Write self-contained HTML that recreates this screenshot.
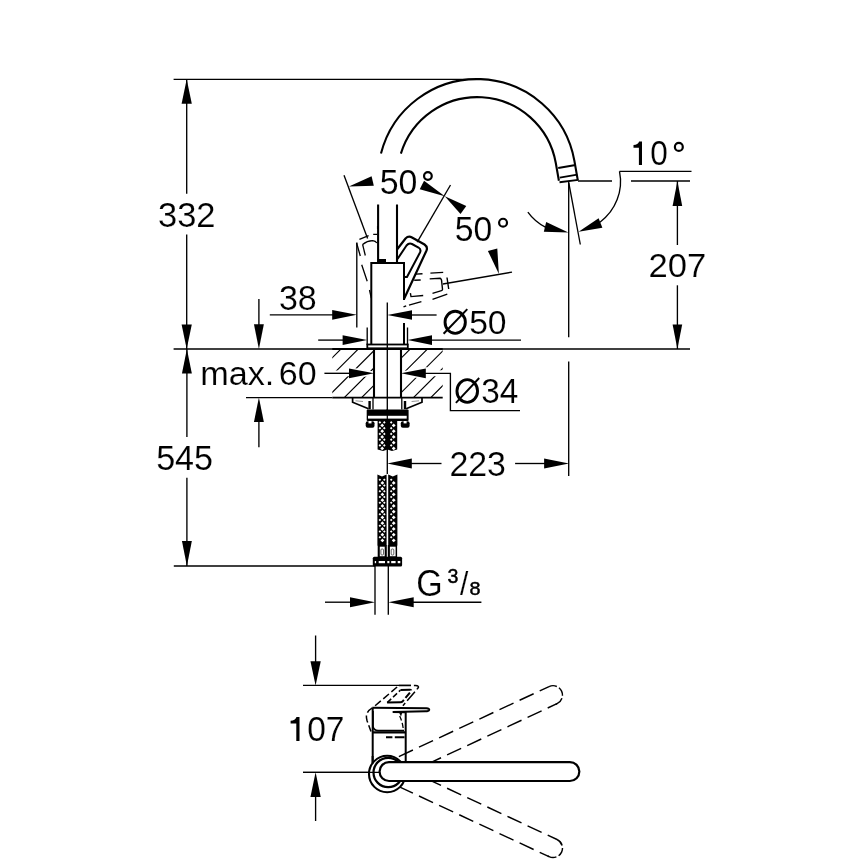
<!DOCTYPE html>
<html><head><meta charset="utf-8"><style>
html,body{margin:0;padding:0;background:#fff;}
svg{display:block;will-change:transform;}
text{font-family:"Liberation Sans",sans-serif;fill:#000;stroke:#fff;stroke-width:0.15px;}
</style></head><body>
<svg width="868" height="868" viewBox="0 0 868 868" stroke="#000" stroke-linecap="butt" fill="none">
<rect x="0" y="0" width="868" height="868" fill="#fff" stroke="none"/>
<line x1="173.6" y1="79.3" x2="476" y2="79.3" stroke-width="1.35" />
<line x1="186.7" y1="79.3" x2="186.7" y2="193.7" stroke-width="1.35" />
<line x1="186.7" y1="234.5" x2="186.7" y2="349" stroke-width="1.35" />
<polygon points="186.7,79.3 181.6,103.8 191.8,103.8" fill="#000" stroke="none" stroke-width="0" />
<polygon points="186.7,349 191.8,324.4 181.6,324.4" fill="#000" stroke="none" stroke-width="0" />
<text transform="translate(157.99 226.66) scale(0.9855 0.9806)" font-size="35" >332</text>
<line x1="173.6" y1="349" x2="690" y2="349" stroke-width="1.35" />
<line x1="186.9" y1="349" x2="186.9" y2="436.9" stroke-width="1.35" />
<line x1="186.9" y1="477.8" x2="186.9" y2="566" stroke-width="1.35" />
<polygon points="186.9,349 181.95,373.5 191.85,373.5" fill="#000" stroke="none" stroke-width="0" />
<polygon points="186.9,566 191.85,541 181.95,541" fill="#000" stroke="none" stroke-width="0" />
<text transform="translate(156.13 470.05) scale(0.9743 1.0114)" font-size="35" >545</text>
<line x1="173.8" y1="566" x2="375" y2="566" stroke-width="1.35" />
<line x1="619.5" y1="171.3" x2="691.5" y2="171.3" stroke-width="1.35" />
<line x1="578" y1="181" x2="612" y2="181" stroke-width="1.35" />
<line x1="631" y1="181" x2="690" y2="181" stroke-width="1.35" />
<line x1="677.4" y1="181" x2="677.4" y2="245" stroke-width="1.35" />
<line x1="677.4" y1="285.3" x2="677.4" y2="349" stroke-width="1.35" />
<polygon points="677.4,181 672.6,206 682.2,206" fill="#000" stroke="none" stroke-width="0" />
<polygon points="677.4,349 682.2,324.5 672.6,324.5" fill="#000" stroke="none" stroke-width="0" />
<text transform="translate(648.56 276.88) scale(0.9895 0.9443)" font-size="35" >207</text>
<path d="M642,141.5 V165.1 H638.9 V147.8 H633.5 V144.9 C636.5,144.8 638.4,144 639.1,141.5 Z" fill="#000" stroke="none"/>
<text transform="translate(650.17 165.46) scale(0.9025 0.9887)" font-size="35" >0</text>
<circle cx="678.85" cy="146.9" r="3.95" stroke-width="2.2" fill="none"/>
<path d="M619.5,171.3 A50.6,50.6 0 0 1 599.95,222.17" stroke-width="1.35" fill="none" />
<polygon points="578.6,231.8 602.38,227.69 598.62,218.31" fill="#000" stroke="none" stroke-width="0" />
<path d="M527.86,212.04 A50.6,50.6 0 0 0 545.83,227.38" stroke-width="1.35" fill="none" />
<polygon points="568.4,232.4 546.18,221.89 543.82,231.71" fill="#000" stroke="none" stroke-width="0" />
<line x1="568.8" y1="182.8" x2="580.3" y2="244.5" stroke-width="1.35" />
<line x1="568.7" y1="182" x2="568.7" y2="337.3" stroke-width="1.35" />
<line x1="568.7" y1="361.5" x2="568.7" y2="476" stroke-width="1.35" />
<path d="M380.98,153.6 A99.0,99.0 0 0 1 574.4,160.91 L577.78,180.11" stroke-width="2.1" fill="none" />
<path d="M400.88,153.6 A79.8,79.8 0 0 1 555.79,163.04 L558.91,180.77" stroke-width="2.1" fill="none" />
<path d="M558.2,168 L575.6,165 M559.8,177.6 L577.2,174.6 M559.5,182.3 L578.3,179.9" stroke-width="1.9" fill="none" />
<line x1="378.1" y1="204.5" x2="378.1" y2="263" stroke-width="2.1" />
<line x1="397" y1="204.5" x2="397" y2="263" stroke-width="2.1" />
<polygon points="377.7,259 386,259 386,263 377.7,263" fill="#000" stroke="none" stroke-width="0" />
<path d="M371.3,345 V263 H404 V300" stroke-width="2.0" fill="none" />
<line x1="404" y1="323" x2="404" y2="345" stroke-width="2.0" />
<rect x="367.3" y="344.5" width="40.5" height="3.8" fill="#fff" stroke-width="1.8"/>
<clipPath id="hL"><rect x="332.3" y="349" width="41.7" height="48.6"/></clipPath>
<clipPath id="hR"><rect x="401" y="349" width="41.7" height="48.6"/></clipPath>
<g clip-path="url(#hL)"><path d="M270,420 L370,320 M287.3,420 L387.3,320 M304.6,420 L404.6,320 M321.9,420 L421.9,320 M339.2,420 L439.2,320 M356.5,420 L456.5,320 M373.8,420 L473.8,320 M391.1,420 L491.1,320 M408.4,420 L508.4,320" stroke-width="1.15"/></g>
<g clip-path="url(#hR)"><path d="M270,420 L370,320 M287.3,420 L387.3,320 M304.6,420 L404.6,320 M321.9,420 L421.9,320 M339.2,420 L439.2,320 M356.5,420 L456.5,320 M373.8,420 L473.8,320 M391.1,420 L491.1,320 M408.4,420 L508.4,320" stroke-width="1.15"/></g>
<polygon points="332,370.5 350,370.5 350,367.3 374,371.5 374,375.2 350,379.3 350,376.2 332,376.2" fill="#fff" stroke="none" stroke-width="0" />
<polygon points="401,371.5 425,367.3 427.5,367.3 427.5,370.2 443,370.2 443,376.2 427.5,376.2 427.5,379.3 425,379.3 401,375.2" fill="#fff" stroke="none" stroke-width="0" />
<line x1="332.3" y1="349" x2="442.7" y2="349" stroke-width="1.9" />
<line x1="246" y1="397.6" x2="332.3" y2="397.6" stroke-width="1.35" />
<line x1="332.3" y1="397.6" x2="442.7" y2="397.6" stroke-width="1.9" />
<line x1="374" y1="349" x2="374" y2="397.6" stroke-width="2.1" />
<line x1="401" y1="349" x2="401" y2="397.6" stroke-width="2.1" />
<line x1="373" y1="397.6" x2="373" y2="409.5" stroke-width="1.3" />
<line x1="401.8" y1="397.6" x2="401.8" y2="409.5" stroke-width="1.3" />
<line x1="324.4" y1="373.3" x2="350" y2="373.3" stroke-width="1.35" />
<polygon points="374,373.3 349,368.45 349,378.15" fill="#000" stroke="none" stroke-width="0" />
<polygon points="401,373.3 425.8,378.15 425.8,368.45" fill="#000" stroke="none" stroke-width="0" />
<path d="M425,373.3 H450.4 V410.6 H520" stroke-width="1.35" fill="none" />
<ellipse cx="467.25" cy="391" rx="10.3" ry="11.35" fill="none" stroke-width="2.9"/>
<line x1="455.9" y1="402.8" x2="479.2" y2="378" stroke-width="1.9" />
<text transform="translate(481.23 402.97) scale(0.9543 0.9766)" font-size="35" >34</text>
<line x1="387.3" y1="302.4" x2="387.3" y2="474" stroke-width="1.35" />
<line x1="269.8" y1="314.8" x2="333" y2="314.8" stroke-width="1.35" />
<polygon points="356.8,314.8 332.2,309.95 332.2,319.65" fill="#000" stroke="none" stroke-width="0" />
<line x1="356.8" y1="242.6" x2="356.8" y2="327.5" stroke-width="1.35" />
<polygon points="387.3,315 412,319.85 412,310.15" fill="#000" stroke="none" stroke-width="0" />
<line x1="411" y1="315" x2="436.6" y2="315" stroke-width="1.35" />
<ellipse cx="455.2" cy="322.3" rx="10.15" ry="11.05" fill="none" stroke-width="2.9"/>
<line x1="443.6" y1="333.7" x2="467.3" y2="309.1" stroke-width="2.0" />
<text transform="translate(469.15 333.78) scale(0.9623 0.9322)" font-size="35" >50</text>
<line x1="318.2" y1="340.1" x2="343" y2="340.1" stroke-width="1.35" />
<polygon points="367.2,340.1 342.6,335.25 342.6,344.95" fill="#000" stroke="none" stroke-width="0" />
<line x1="367.2" y1="327.5" x2="367.2" y2="345" stroke-width="1.35" />
<polygon points="407.6,340.1 432,344.95 432,335.25" fill="#000" stroke="none" stroke-width="0" />
<line x1="431" y1="340.1" x2="521" y2="340.1" stroke-width="1.35" />
<line x1="407.5" y1="327.5" x2="407.5" y2="345" stroke-width="1.35" />
<text transform="translate(278.9 309.56) scale(0.9729 1.0008)" font-size="35" >38</text>
<line x1="258.9" y1="299" x2="258.9" y2="325" stroke-width="1.35" />
<polygon points="258.9,349 263.85,324.3 253.95,324.3" fill="#000" stroke="none" stroke-width="0" />
<polygon points="258.9,397.6 253.95,422 263.85,422" fill="#000" stroke="none" stroke-width="0" />
<line x1="258.9" y1="421" x2="258.9" y2="447.3" stroke-width="1.35" />
<text transform="translate(200.13 385.27) scale(0.9783 0.9648)" font-size="35" >max.</text>
<text transform="translate(278.87 385.28) scale(0.9724 0.9282)" font-size="35" >60</text>
<polygon points="387.3,463.5 411.8,468.55 411.8,458.45" fill="#000" stroke="none" stroke-width="0" />
<line x1="411" y1="463.5" x2="441.5" y2="463.5" stroke-width="1.35" />
<line x1="515.1" y1="463.5" x2="545" y2="463.5" stroke-width="1.35" />
<polygon points="569,463.5 544.1,458.45 544.1,468.55" fill="#000" stroke="none" stroke-width="0" />
<text transform="translate(449.39 475.86) scale(0.9692 1.0008)" font-size="35" >223</text>
<line x1="325" y1="602.2" x2="351" y2="602.2" stroke-width="1.35" />
<polygon points="375,602.2 350,597.25 350,607.15" fill="#000" stroke="none" stroke-width="0" />
<polygon points="388.3,602.2 413.7,607.15 413.7,597.25" fill="#000" stroke="none" stroke-width="0" />
<line x1="413" y1="602.2" x2="481.4" y2="602.2" stroke-width="1.35" />
<line x1="375" y1="566" x2="375" y2="614.8" stroke-width="1.35" />
<line x1="388.3" y1="566" x2="388.3" y2="614.8" stroke-width="1.35" />
<text transform="translate(416.29 595.55) scale(0.9716 1.0371)" font-size="35" >G</text>
<text transform="translate(447.45 583.1) scale(0.9808 1.0099)" font-size="20" style="stroke:#000;stroke-width:0.45px">3</text>
<text transform="translate(460 595.08) scale(0.8535 0.9454)" font-size="35" >/</text>
<text transform="translate(469.44 595.12) scale(0.9910 0.9463)" font-size="20" style="stroke:#000;stroke-width:0.45px">8</text>
<text transform="translate(379.64 194.26) scale(0.9679 0.9968)" font-size="35" >50</text>
<circle cx="427.9" cy="176" r="3.85" stroke-width="2.2" fill="none"/>
<text transform="translate(454.65 240.96) scale(0.9651 1.0008)" font-size="35" >50</text>
<circle cx="503.05" cy="222.7" r="3.95" stroke-width="2.2" fill="none"/>
<line x1="344" y1="175.3" x2="367.6" y2="238.4" stroke-width="1.35" />
<line x1="450.5" y1="185" x2="417.2" y2="242.2" stroke-width="1.35" />
<line x1="442.9" y1="284" x2="512" y2="272.1" stroke-width="1.35" />
<polygon points="348.9,186.6 373.81,185.72 371.59,176.28" fill="#000" stroke="none" stroke-width="0" />
<polygon points="444.8,196.3 424.05,180.65 419.75,189.35" fill="#000" stroke="none" stroke-width="0" />
<polygon points="444.8,196.3 460.52,213.91 466.28,206.09" fill="#000" stroke="none" stroke-width="0" />
<polygon points="498.9,273.9 497.29,248.48 487.91,250.92" fill="#000" stroke="none" stroke-width="0" />
<path d="M397,249.5 L405.5,238.5 Q408.5,235.5 412,237.5 L424.5,244.5 Q428,247 426.5,250.5 L404,299" stroke-width="2.1999999999999997" fill="none" />
<path d="M397.5,259 L406.5,245.5 Q409,242.5 412,244 L418.5,247.5 Q421.5,249.5 420,252.5 L407,277 H404" stroke-width="2.0" fill="none" />
<path d="M359.4,239.4 L368.6,235.7 M373.2,234.3 L377.3,234.3" stroke-width="1.3" fill="none" />
<path d="M362.6,244.4 Q367,241 372.7,240.7 Q375.5,241 376.9,243" stroke-width="1.3" fill="none" />
<path d="M362.6,244.4 L365.3,255.5" stroke-width="1.3" fill="none" />
<path d="M356.6,243 L360.3,256 M361.7,264.7 L367.2,281.3 M369.5,290 L371.3,298" stroke-width="1.3" fill="none" />
<path d="M377.6,226 L377.6,229" stroke-width="1.3" fill="none" />
<path d="M415.5,274.1 L422.5,273.7 M430.4,273.1 L443.2,272.4" stroke-width="1.4" fill="none" />
<path d="M414.2,280.3 L420.7,280 M429.7,278.9 L440.1,278.2 Q441.8,279 441.8,282.7 L442.5,289.3 Q442.3,290.5 441.5,290.6 L432.5,293.4" stroke-width="1.4" fill="none" />
<path d="M410.4,293.1 L411,296.6 L423.2,295.5" stroke-width="1.4" fill="none" />
<path d="M447,277.5 L448.7,289" stroke-width="1.4" fill="none" />
<path d="M403.5,306.9 L406.2,305.9 M409,305.2 L421.4,301.7 M432.5,299.3 L447.3,294.1" stroke-width="1.4" fill="none" />
<path d="M352.6,397.6 V402.3 L368.5,408.8" stroke-width="1.7" fill="none" />
<path d="M422,397.6 V402.3 L406.1,408.8" stroke-width="1.7" fill="none" />
<line x1="369.6" y1="401" x2="369.6" y2="409.2" stroke-width="2.4" />
<line x1="405" y1="401" x2="405" y2="409.2" stroke-width="2.4" />
<path d="M355.5,400.8 L363,401.5 M419,400.8 L411.6,401.5" stroke-width="0.9" fill="none" stroke="#888"/>
<rect x="366.7" y="409.4" width="41.9" height="11.6" fill="#000" stroke="none" rx="1"/>
<rect x="368" y="415.8" width="38.7" height="2.8" fill="#fff" stroke="none"/>
<line x1="387.3" y1="409" x2="387.3" y2="421" stroke-width="1.2" />
<rect x="365.7" y="421.3" width="8.8" height="6.5" rx="2" fill="#000" stroke="none"/>
<rect x="400.8" y="421.3" width="8.8" height="6.5" rx="2" fill="#000" stroke="none"/>
<rect x="368.5" y="421" width="3" height="2.4" fill="#fff" stroke="none"/>
<rect x="403.6" y="421" width="3" height="2.4" fill="#fff" stroke="none"/>
<path d="M377.6,420.5 H397.2 V449.5 L392,451 L387.5,449.5 L383,451 L377.6,449.5 Z" fill="#000" stroke="none"/>
<polygon points="382.2,423.5 384.1,425.4 382.2,427.3 380.3,425.4" fill="#fff" stroke="none" stroke-width="0" />
<polygon points="382.2,429.25 384.1,431.15 382.2,433.05 380.3,431.15" fill="#fff" stroke="none" stroke-width="0" />
<polygon points="382.2,435 384.1,436.9 382.2,438.8 380.3,436.9" fill="#fff" stroke="none" stroke-width="0" />
<polygon points="382.2,440.75 384.1,442.65 382.2,444.55 380.3,442.65" fill="#fff" stroke="none" stroke-width="0" />
<polygon points="382.2,446.5 384.1,448.4 382.2,450.3 380.3,448.4" fill="#fff" stroke="none" stroke-width="0" />
<polygon points="379.9,421.1 381.2,422.4 379.9,423.7 378.6,422.4" fill="#fff" stroke="none" stroke-width="0" />
<polygon points="379.9,426.85 381.2,428.15 379.9,429.45 378.6,428.15" fill="#fff" stroke="none" stroke-width="0" />
<polygon points="379.9,432.6 381.2,433.9 379.9,435.2 378.6,433.9" fill="#fff" stroke="none" stroke-width="0" />
<polygon points="379.9,438.35 381.2,439.65 379.9,440.95 378.6,439.65" fill="#fff" stroke="none" stroke-width="0" />
<polygon points="379.9,444.1 381.2,445.4 379.9,446.7 378.6,445.4" fill="#fff" stroke="none" stroke-width="0" />
<polygon points="384.3,421.1 385.6,422.4 384.3,423.7 383,422.4" fill="#fff" stroke="none" stroke-width="0" />
<polygon points="384.3,426.85 385.6,428.15 384.3,429.45 383,428.15" fill="#fff" stroke="none" stroke-width="0" />
<polygon points="384.3,432.6 385.6,433.9 384.3,435.2 383,433.9" fill="#fff" stroke="none" stroke-width="0" />
<polygon points="384.3,438.35 385.6,439.65 384.3,440.95 383,439.65" fill="#fff" stroke="none" stroke-width="0" />
<polygon points="384.3,444.1 385.6,445.4 384.3,446.7 383,445.4" fill="#fff" stroke="none" stroke-width="0" />
<polygon points="393.7,423.5 395.6,425.4 393.7,427.3 391.8,425.4" fill="#fff" stroke="none" stroke-width="0" />
<polygon points="393.7,429.25 395.6,431.15 393.7,433.05 391.8,431.15" fill="#fff" stroke="none" stroke-width="0" />
<polygon points="393.7,435 395.6,436.9 393.7,438.8 391.8,436.9" fill="#fff" stroke="none" stroke-width="0" />
<polygon points="393.7,440.75 395.6,442.65 393.7,444.55 391.8,442.65" fill="#fff" stroke="none" stroke-width="0" />
<polygon points="393.7,446.5 395.6,448.4 393.7,450.3 391.8,448.4" fill="#fff" stroke="none" stroke-width="0" />
<polygon points="391.2,421.1 392.5,422.4 391.2,423.7 389.9,422.4" fill="#fff" stroke="none" stroke-width="0" />
<polygon points="391.2,426.85 392.5,428.15 391.2,429.45 389.9,428.15" fill="#fff" stroke="none" stroke-width="0" />
<polygon points="391.2,432.6 392.5,433.9 391.2,435.2 389.9,433.9" fill="#fff" stroke="none" stroke-width="0" />
<polygon points="391.2,438.35 392.5,439.65 391.2,440.95 389.9,439.65" fill="#fff" stroke="none" stroke-width="0" />
<polygon points="391.2,444.1 392.5,445.4 391.2,446.7 389.9,445.4" fill="#fff" stroke="none" stroke-width="0" />
<path d="M377.4,474.4 L382,476.5 L386.6,474.4 V545.5 H377.4 Z" fill="#000" stroke="none"/>
<path d="M388.2,474.4 L392.8,476.5 L397.4,474.4 V545.5 H388.2 Z" fill="#000" stroke="none"/>
<polygon points="382.4,481 384.3,482.9 382.4,484.8 380.5,482.9" fill="#fff" stroke="none" stroke-width="0" />
<polygon points="382.4,486.75 384.3,488.65 382.4,490.55 380.5,488.65" fill="#fff" stroke="none" stroke-width="0" />
<polygon points="382.4,492.5 384.3,494.4 382.4,496.3 380.5,494.4" fill="#fff" stroke="none" stroke-width="0" />
<polygon points="382.4,498.25 384.3,500.15 382.4,502.05 380.5,500.15" fill="#fff" stroke="none" stroke-width="0" />
<polygon points="382.4,504 384.3,505.9 382.4,507.8 380.5,505.9" fill="#fff" stroke="none" stroke-width="0" />
<polygon points="382.4,509.75 384.3,511.65 382.4,513.55 380.5,511.65" fill="#fff" stroke="none" stroke-width="0" />
<polygon points="382.4,515.5 384.3,517.4 382.4,519.3 380.5,517.4" fill="#fff" stroke="none" stroke-width="0" />
<polygon points="382.4,521.25 384.3,523.15 382.4,525.05 380.5,523.15" fill="#fff" stroke="none" stroke-width="0" />
<polygon points="382.4,527 384.3,528.9 382.4,530.8 380.5,528.9" fill="#fff" stroke="none" stroke-width="0" />
<polygon points="382.4,532.75 384.3,534.65 382.4,536.55 380.5,534.65" fill="#fff" stroke="none" stroke-width="0" />
<polygon points="382.4,538.5 384.3,540.4 382.4,542.3 380.5,540.4" fill="#fff" stroke="none" stroke-width="0" />
<polygon points="379.9,478.5 381.2,479.8 379.9,481.1 378.6,479.8" fill="#fff" stroke="none" stroke-width="0" />
<polygon points="379.9,484.25 381.2,485.55 379.9,486.85 378.6,485.55" fill="#fff" stroke="none" stroke-width="0" />
<polygon points="379.9,490 381.2,491.3 379.9,492.6 378.6,491.3" fill="#fff" stroke="none" stroke-width="0" />
<polygon points="379.9,495.75 381.2,497.05 379.9,498.35 378.6,497.05" fill="#fff" stroke="none" stroke-width="0" />
<polygon points="379.9,501.5 381.2,502.8 379.9,504.1 378.6,502.8" fill="#fff" stroke="none" stroke-width="0" />
<polygon points="379.9,507.25 381.2,508.55 379.9,509.85 378.6,508.55" fill="#fff" stroke="none" stroke-width="0" />
<polygon points="379.9,513 381.2,514.3 379.9,515.6 378.6,514.3" fill="#fff" stroke="none" stroke-width="0" />
<polygon points="379.9,518.75 381.2,520.05 379.9,521.35 378.6,520.05" fill="#fff" stroke="none" stroke-width="0" />
<polygon points="379.9,524.5 381.2,525.8 379.9,527.1 378.6,525.8" fill="#fff" stroke="none" stroke-width="0" />
<polygon points="379.9,530.25 381.2,531.55 379.9,532.85 378.6,531.55" fill="#fff" stroke="none" stroke-width="0" />
<polygon points="379.9,536 381.2,537.3 379.9,538.6 378.6,537.3" fill="#fff" stroke="none" stroke-width="0" />
<polygon points="384.3,478.5 385.6,479.8 384.3,481.1 383,479.8" fill="#fff" stroke="none" stroke-width="0" />
<polygon points="384.3,484.25 385.6,485.55 384.3,486.85 383,485.55" fill="#fff" stroke="none" stroke-width="0" />
<polygon points="384.3,490 385.6,491.3 384.3,492.6 383,491.3" fill="#fff" stroke="none" stroke-width="0" />
<polygon points="384.3,495.75 385.6,497.05 384.3,498.35 383,497.05" fill="#fff" stroke="none" stroke-width="0" />
<polygon points="384.3,501.5 385.6,502.8 384.3,504.1 383,502.8" fill="#fff" stroke="none" stroke-width="0" />
<polygon points="384.3,507.25 385.6,508.55 384.3,509.85 383,508.55" fill="#fff" stroke="none" stroke-width="0" />
<polygon points="384.3,513 385.6,514.3 384.3,515.6 383,514.3" fill="#fff" stroke="none" stroke-width="0" />
<polygon points="384.3,518.75 385.6,520.05 384.3,521.35 383,520.05" fill="#fff" stroke="none" stroke-width="0" />
<polygon points="384.3,524.5 385.6,525.8 384.3,527.1 383,525.8" fill="#fff" stroke="none" stroke-width="0" />
<polygon points="384.3,530.25 385.6,531.55 384.3,532.85 383,531.55" fill="#fff" stroke="none" stroke-width="0" />
<polygon points="384.3,536 385.6,537.3 384.3,538.6 383,537.3" fill="#fff" stroke="none" stroke-width="0" />
<polygon points="393.7,481 395.6,482.9 393.7,484.8 391.8,482.9" fill="#fff" stroke="none" stroke-width="0" />
<polygon points="393.7,486.75 395.6,488.65 393.7,490.55 391.8,488.65" fill="#fff" stroke="none" stroke-width="0" />
<polygon points="393.7,492.5 395.6,494.4 393.7,496.3 391.8,494.4" fill="#fff" stroke="none" stroke-width="0" />
<polygon points="393.7,498.25 395.6,500.15 393.7,502.05 391.8,500.15" fill="#fff" stroke="none" stroke-width="0" />
<polygon points="393.7,504 395.6,505.9 393.7,507.8 391.8,505.9" fill="#fff" stroke="none" stroke-width="0" />
<polygon points="393.7,509.75 395.6,511.65 393.7,513.55 391.8,511.65" fill="#fff" stroke="none" stroke-width="0" />
<polygon points="393.7,515.5 395.6,517.4 393.7,519.3 391.8,517.4" fill="#fff" stroke="none" stroke-width="0" />
<polygon points="393.7,521.25 395.6,523.15 393.7,525.05 391.8,523.15" fill="#fff" stroke="none" stroke-width="0" />
<polygon points="393.7,527 395.6,528.9 393.7,530.8 391.8,528.9" fill="#fff" stroke="none" stroke-width="0" />
<polygon points="393.7,532.75 395.6,534.65 393.7,536.55 391.8,534.65" fill="#fff" stroke="none" stroke-width="0" />
<polygon points="393.7,538.5 395.6,540.4 393.7,542.3 391.8,540.4" fill="#fff" stroke="none" stroke-width="0" />
<polygon points="391.2,478.5 392.5,479.8 391.2,481.1 389.9,479.8" fill="#fff" stroke="none" stroke-width="0" />
<polygon points="391.2,484.25 392.5,485.55 391.2,486.85 389.9,485.55" fill="#fff" stroke="none" stroke-width="0" />
<polygon points="391.2,490 392.5,491.3 391.2,492.6 389.9,491.3" fill="#fff" stroke="none" stroke-width="0" />
<polygon points="391.2,495.75 392.5,497.05 391.2,498.35 389.9,497.05" fill="#fff" stroke="none" stroke-width="0" />
<polygon points="391.2,501.5 392.5,502.8 391.2,504.1 389.9,502.8" fill="#fff" stroke="none" stroke-width="0" />
<polygon points="391.2,507.25 392.5,508.55 391.2,509.85 389.9,508.55" fill="#fff" stroke="none" stroke-width="0" />
<polygon points="391.2,513 392.5,514.3 391.2,515.6 389.9,514.3" fill="#fff" stroke="none" stroke-width="0" />
<polygon points="391.2,518.75 392.5,520.05 391.2,521.35 389.9,520.05" fill="#fff" stroke="none" stroke-width="0" />
<polygon points="391.2,524.5 392.5,525.8 391.2,527.1 389.9,525.8" fill="#fff" stroke="none" stroke-width="0" />
<polygon points="391.2,530.25 392.5,531.55 391.2,532.85 389.9,531.55" fill="#fff" stroke="none" stroke-width="0" />
<polygon points="391.2,536 392.5,537.3 391.2,538.6 389.9,537.3" fill="#fff" stroke="none" stroke-width="0" />
<rect x="377.7" y="545" width="9.1" height="12.5" fill="#000" stroke="none"/>
<rect x="387.8" y="545" width="9.3" height="12.5" fill="#000" stroke="none"/>
<rect x="379.8" y="546.7" width="4.9" height="9.6" fill="#fff" stroke="none"/>
<rect x="389.9" y="546.7" width="5.7" height="9.6" fill="#fff" stroke="none"/>
<rect x="380.9" y="549" width="2.6" height="6" rx="1" fill="none" stroke="#555" stroke-width="0.9"/>
<rect x="391.2" y="549" width="2.6" height="6" rx="1" fill="none" stroke="#555" stroke-width="0.9"/>
<rect x="372.8" y="556.8" width="29.3" height="9.8" rx="1.5" fill="#000" stroke="none"/>
<rect x="374.8" y="561" width="1.3" height="2.2" fill="#fff" stroke="none"/>
<rect x="378.7" y="561" width="6.3" height="2.2" fill="#fff" stroke="none"/>
<rect x="387.3" y="561" width="2.1" height="2.2" fill="#fff" stroke="none"/>
<rect x="391.2" y="561" width="4.4" height="2.2" fill="#fff" stroke="none"/>
<rect x="397.7" y="561" width="2.6" height="2.2" fill="#fff" stroke="none"/>
<path d="M299.5,717 V741 H296.3 V723.6 H290.6 V720.7 C293.6,720.6 295.8,719.5 296.5,717 Z" fill="#000" stroke="none"/>
<text transform="translate(307.19 741.06) scale(0.9580 0.9968)" font-size="35" >07</text>
<line x1="303" y1="685.4" x2="411" y2="685.4" stroke-width="1.35" />
<line x1="315.6" y1="635.5" x2="315.6" y2="662" stroke-width="1.35" />
<polygon points="315.6,685.4 320.75,661.3 310.45,661.3" fill="#000" stroke="none" stroke-width="0" />
<line x1="303" y1="772.3" x2="379.5" y2="772.3" stroke-width="1.35" />
<polygon points="315.6,772.3 310.45,797 320.75,797" fill="#000" stroke="none" stroke-width="0" />
<line x1="315.6" y1="796" x2="315.6" y2="821" stroke-width="1.35" />
<path d="M405.68,774.25 L557.04,703.67" stroke-width="1.45" stroke-dasharray="15.5,6.7" stroke-dashoffset="-1.3"/>
<path d="M397.69,757.12 L549.05,686.54" stroke-width="1.45" stroke-dasharray="15.5,6.7" stroke-dashoffset="-1.3"/>
<path d="M555.68,704.3 L557.04,703.67 A9.45,9.45 0 0 0 549.05,686.54" stroke-width="1.45" stroke-dasharray="9,2.5"/>
<path d="M397.69,786.08 L549.05,856.66" stroke-width="1.45" stroke-dasharray="15.5,6.7" stroke-dashoffset="-1.3"/>
<path d="M405.68,768.95 L557.04,839.53" stroke-width="1.45" stroke-dasharray="15.5,6.7" stroke-dashoffset="-1.3"/>
<path d="M547.69,856.02 L549.05,856.66 A9.45,9.45 0 0 0 557.04,839.53" stroke-width="1.45" stroke-dasharray="9,2.5"/>
<path d="M375.1,705.8 L398.9,685.5" stroke-width="1.5" fill="none" stroke-dasharray="7.5,3.2"/>
<path d="M398.9,685.5 H415.5 Q419.5,685.8 418.2,687.8 L402.9,705.8" stroke-width="1.5" fill="none" stroke-dasharray="12,3,8,3"/>
<path d="M400.5,690.1 L410,689.7 Q412,690 410.8,691.5 L402.8,701.2 Q401.8,702.2 400.5,702.2 L387.2,702.6" stroke-width="2.0" fill="none" stroke-dasharray="11,2.5,7,2.5,30"/>
<path d="M387.2,702.6 L400.5,690.1" stroke-width="1.5" fill="none" stroke-dasharray="5.5,2.5"/>
<path d="M372.7,763 V707.8" stroke-width="2.0" fill="none" />
<line x1="405.7" y1="712" x2="405.7" y2="762" stroke-width="2.0" />
<line x1="372.7" y1="732.4" x2="405.7" y2="732.4" stroke-width="2.4" />
<path d="M386,737.3 H392.4 M394.8,737.3 H404.5" stroke-width="2.0" fill="none" />
<path d="M373,711 V726.5 Q373.8,730.4 378,730.6 H404" stroke-width="1.6" fill="none" />
<path d="M372.3,707.8 Q367.6,710.5 366.4,715.5 Q366.3,718 367,720.5 L371,731.6" stroke-width="1.5" fill="none" stroke-dasharray="7,3"/>
<path d="M399.7,716 Q402.5,722 403.3,729.2" stroke-width="1.3" fill="none" stroke-dasharray="5,2.5"/>
<path d="M372.3,707.8 L426.5,708.2 Q429.6,708.8 429.2,709.8 Q428.6,711.2 425.5,711.3 L392.8,711.9" stroke-width="2.0" fill="none" />
<polygon points="392.8,710.9 405.7,710.9 405.7,713.2 392.8,713" fill="#000" stroke="none" stroke-width="0" />
<polygon points="398.8,712 402.5,712 401,716.5" fill="#000" stroke="none" stroke-width="0" />
<circle cx="387.2" cy="774" r="18.2" fill="#fff" stroke-width="2.1"/>
<circle cx="388.2" cy="772.5" r="14.7" fill="none" stroke-width="2.2"/>
<line x1="372.6" y1="756" x2="372.6" y2="763" stroke-width="2.0" />
<path d="M389,762.1 H569.9 A9.45,9.45 0 0 1 569.9,781 H389 A9.45,9.45 0 0 1 389,762.1 Z" fill="#fff" stroke-width="2.2"/>
<line x1="303" y1="772.3" x2="379.5" y2="772.3" stroke-width="1.35" />
</svg></body></html>
